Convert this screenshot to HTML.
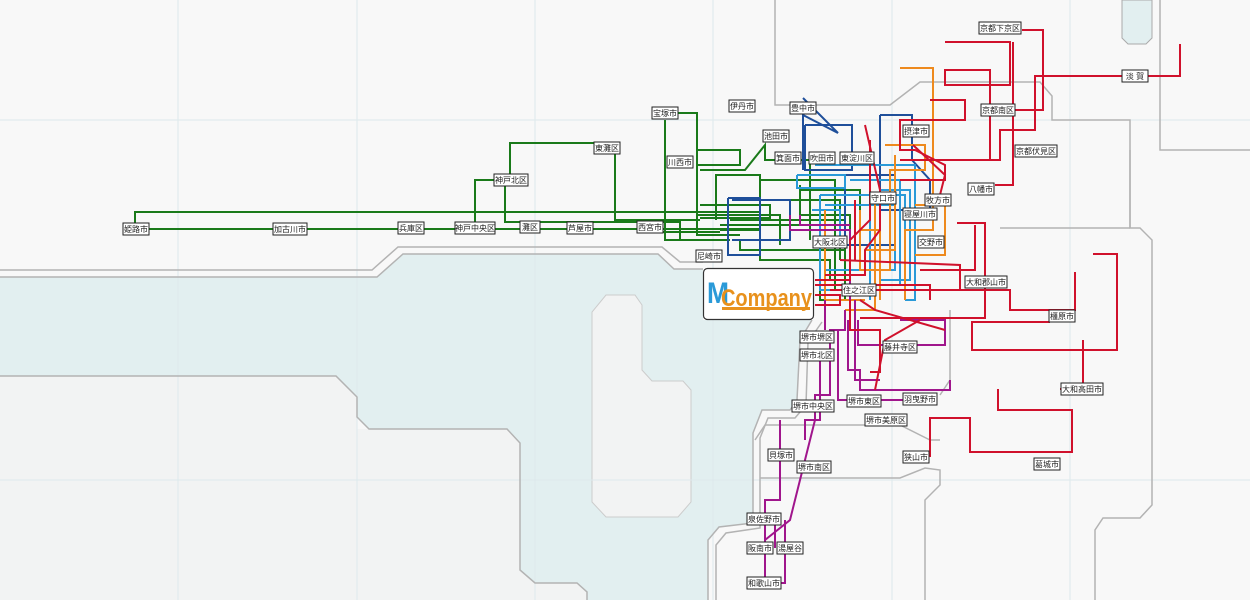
<!DOCTYPE html>
<html><head><meta charset="utf-8"><style>
html,body{margin:0;padding:0;background:#f8f8f8;}
svg{display:block}
</style></head><body>
<svg width="1250" height="600" viewBox="0 0 1250 600" xmlns="http://www.w3.org/2000/svg">
<rect width="1250" height="600" fill="#f8f8f8"/>
<polygon points="0,376 336,376 357,397 357,429 507,429 520,443 520,570 535,583 577,583 587,592 587,600 0,600" fill="#f2f3f3"/>
<polygon points="0,277 377,277 403,254 658,254 674,269 703,269 703,320 812,320 800,340 797,400 790,410 762,410 753,433 753,523 719,527 708,540 708,600 587,600 587,592 577,583 535,583 520,570 520,443 507,429 369,429 357,417 357,397 336,376 0,376" fill="#e2eff0"/>
<polygon points="606,295 635,295 642,305 642,370 652,381 683,381 691,390 691,502 678,517 606,517 592,502 592,312" fill="#f2f3f3" stroke="#ccc" stroke-width="1"/>
<polygon points="1122,0 1152,0 1152,38 1146,44 1128,44 1122,38" fill="#e2eff0" stroke="#aaa"/>
<g stroke="#dde9ec" stroke-width="1">
<line x1="178" y1="0" x2="178" y2="600"/><line x1="357" y1="0" x2="357" y2="600"/><line x1="535" y1="0" x2="535" y2="600"/><line x1="713" y1="0" x2="713" y2="600"/><line x1="892" y1="0" x2="892" y2="600"/><line x1="1070" y1="0" x2="1070" y2="600"/>
<line x1="0" y1="120" x2="1250" y2="120"/><line x1="0" y1="480" x2="1250" y2="480"/>
</g>
<g fill="none" stroke="#b3b3b3" stroke-width="1.5">
<polyline points="0,270 372,270 398,247 662,247 680,262 703,262"/>
<polyline points="0,277 377,277 403,254 658,254 674,269 703,269"/>
<polyline points="0,376 336,376 357,397 357,417 369,429 507,429 520,443 520,570 535,583 577,583 587,592 587,600"/>
<polyline points="812,320 800,340 797,400 790,410 762,410 753,433 753,523 719,527 708,540 708,600"/>
<polyline points="822,322 808,342 806,405 795,418 768,418 760,438 760,528 726,533 716,545 716,600"/>
<polyline points="775,0 775,105 890,105 920,82 1040,82 1052,96 1052,120 1130,120 1130,228"/>
<polyline points="1130,150 1130,228 1140,228 1152,240 1152,505 1140,518 1103,518 1095,530 1095,600"/>
<polyline points="1160,0 1160,150 1250,150"/>
<polyline points="760,478 900,478 925,468 940,470 940,485 925,500 925,600"/>
<polyline points="755,440 765,425 900,425 930,440 940,440"/>
<polyline points="1000,228 1130,228"/>
<polyline points="950,310 950,380 940,395"/>
</g>
<g fill="none" stroke-width="2">
<g stroke="#1a7a1a">
<polyline points="135,229 135,212 760,212"/>
<polyline points="140,229 760,229"/>
<polyline points="475,228 475,180 510,180 510,143 615,143 615,220 700,220"/>
<polyline points="505,180 505,222 680,222 680,240 700,240"/>
<polyline points="665,113 697,113 697,235 740,235"/>
<polyline points="665,120 665,240 730,240"/>
<polyline points="697,150 740,150 740,165 697,165 697,160"/>
<polyline points="716,220 716,175 760,175 760,200 840,200 840,260"/>
<polyline points="720,230 760,230 760,260 830,260 830,280"/>
<polyline points="700,170 745,170 765,145 765,160 810,160 810,240"/>
<polyline points="740,240 740,250 845,250 845,300"/>
<polyline points="730,220 845,220 845,290"/>
<polyline points="697,215 780,215 780,245"/>
<polyline points="720,225 820,225 820,300 830,300"/>
<polyline points="760,180 835,180 835,290"/>
<polyline points="800,190 860,190 860,250"/>
<polyline points="650,225 650,232 720,232"/>
<polyline points="700,205 770,205 770,218 700,218"/>
<polyline points="800,185 800,215 850,215 850,265"/>
</g>
<g stroke="#1f4f9a">
<polyline points="803,98 838,133 803,115 803,170"/>
<polyline points="805,125 852,125 852,170 805,170 805,125"/>
<polyline points="728,198 728,255 760,255 760,198 728,198"/>
<polyline points="880,115 912,115 912,160 930,180 930,210 880,210 880,115"/>
<polyline points="820,200 820,260"/>
<polyline points="845,175 845,245 895,245 895,175 845,175"/>
<polyline points="732,200 790,200 790,240 732,240"/>
</g>
<g stroke="#2a9ad8">
<polyline points="797,175 845,175 845,188 797,188 797,175"/>
<polyline points="815,165 915,165 915,300 905,300"/>
<polyline points="820,195 905,195 905,290 820,290 820,195"/>
<polyline points="850,180 900,180 900,285 850,285"/>
<polyline points="870,170 870,300"/>
<polyline points="880,190 910,190 910,280 880,280"/>
<polyline points="812,210 840,210 840,245"/>
<polyline points="825,205 895,205 895,270 825,270"/>
</g>
<g stroke="#ee8a1e">
<polyline points="900,68 933,68 933,230 905,230 905,300"/>
<polyline points="885,145 925,145 925,170 890,170 890,270 860,270 860,210"/>
<polyline points="875,200 875,310 845,310"/>
<polyline points="860,230 880,230 880,300"/>
<polyline points="915,205 945,205 945,255 915,255"/>
<polyline points="895,155 895,250 865,250"/>
<polyline points="825,210 825,300 865,300"/>
</g>
<g stroke="#a0168c">
<polyline points="790,215 790,230 850,230 850,300"/>
<polyline points="855,300 855,380 880,380"/>
<polyline points="848,320 848,370 860,370 860,390 950,390 950,380"/>
<polyline points="858,320 858,345 945,345 945,320 900,320"/>
<polyline points="845,310 845,330 830,330 830,395 815,395 815,420"/>
<polyline points="820,350 820,420 805,420 805,440"/>
<polyline points="815,420 800,480 790,520 765,540"/>
<polyline points="780,420 780,500 765,500 765,583"/>
<polyline points="775,519 775,548"/>
<polyline points="785,520 785,583 770,583"/>
<polyline points="838,330 838,400 880,400 920,400"/>
<polyline points="825,300 825,330"/>
<polyline points="800,215 800,225 850,225"/>
</g>
<g stroke="#d0112c">
<polyline points="1022,30 1043,30 1043,110 1000,110"/>
<polyline points="945,42 1010,42 1010,85 945,85 945,70 990,70 990,160 920,160"/>
<polyline points="1013,42 1013,185 995,185"/>
<polyline points="1135,76 1180,76 1180,44"/>
<polyline points="1135,76 1035,76 1035,130 1000,130 1000,160 900,160"/>
<polyline points="930,100 965,100 965,120 900,120 900,150 915,150 945,165 945,180 900,180"/>
<polyline points="957,223 985,223 985,318 860,318"/>
<polyline points="975,225 975,270 920,270"/>
<polyline points="1075,272 1075,310 1010,310 1010,290 900,290"/>
<polyline points="1093,254 1117,254 1117,350 972,350 972,322 1050,322"/>
<polyline points="1083,340 1083,389 1060,389"/>
<polyline points="998,389 998,410 1072,410 1072,452 970,452 970,418 930,418 930,457"/>
<polyline points="920,320 885,340 875,390"/>
<polyline points="860,300 875,310 945,330"/>
<polyline points="865,125 880,190 880,230 865,250 865,275 825,275"/>
<polyline points="870,140 870,220 850,240 850,280 815,280"/>
<polyline points="913,145 945,175 940,195"/>
<polyline points="840,260 960,265 960,290 830,290"/>
<polyline points="850,300 850,330 880,330 880,372 870,372"/>
<polyline points="815,285 930,285 930,300"/>
<polyline points="815,295 840,295 840,305 815,305"/>
<polyline points="855,200 855,260"/>
</g>
</g>
<rect x="703.5" y="268.5" width="110" height="51" rx="4" fill="#fff" stroke="#333" stroke-width="1.2"/>
<text x="707" y="303" font-family="Liberation Sans,sans-serif" font-weight="bold" font-size="30" fill="#2a9ad8" textLength="22" lengthAdjust="spacingAndGlyphs">M</text>
<text x="721" y="306" font-family="Liberation Sans,sans-serif" font-weight="bold" font-size="24" fill="#e8911c" textLength="91" lengthAdjust="spacingAndGlyphs">Company</text>
<rect x="722" y="307" width="88" height="3" fill="#e8911c"/>
<g font-family="Liberation Sans,Noto Sans CJK JP,sans-serif" font-size="8" fill="#222">
<g stroke="#222" stroke-width="1" fill="#fff">
<rect x="123" y="223" width="26" height="12"/><rect x="273" y="223" width="34" height="12"/><rect x="398" y="222" width="26" height="12"/><rect x="455" y="222" width="40" height="12"/><rect x="520" y="221" width="20" height="12"/><rect x="567" y="222" width="26" height="12"/><rect x="637" y="221" width="26" height="12"/><rect x="594" y="142" width="26" height="12"/><rect x="494" y="174" width="34" height="12"/><rect x="652" y="107" width="26" height="12"/><rect x="667" y="156" width="26" height="12"/><rect x="729" y="100" width="26" height="12"/><rect x="790" y="102" width="26" height="12"/><rect x="763" y="130" width="26" height="12"/><rect x="775" y="152" width="26" height="12"/><rect x="809" y="152" width="26" height="12"/><rect x="840" y="152" width="34" height="12"/><rect x="696" y="250" width="26" height="12"/><rect x="870" y="192" width="26" height="12"/><rect x="903" y="125" width="26" height="12"/><rect x="925" y="194" width="26" height="12"/><rect x="903" y="208" width="34" height="12"/><rect x="918" y="236" width="26" height="12"/><rect x="813" y="236" width="34" height="12"/><rect x="842" y="284" width="34" height="12"/><rect x="979" y="22" width="42" height="12"/><rect x="981" y="104" width="34" height="12"/><rect x="1015" y="145" width="42" height="12"/><rect x="1122" y="70" width="26" height="12"/><rect x="968" y="183" width="26" height="12"/><rect x="965" y="276" width="42" height="12"/><rect x="1049" y="310" width="26" height="12"/><rect x="1061" y="383" width="42" height="12"/><rect x="883" y="341" width="34" height="12"/><rect x="800" y="331" width="34" height="12"/><rect x="800" y="349" width="34" height="12"/><rect x="792" y="400" width="42" height="12"/><rect x="847" y="395" width="34" height="12"/><rect x="903" y="393" width="34" height="12"/><rect x="865" y="414" width="42" height="12"/><rect x="903" y="451" width="26" height="12"/><rect x="1034" y="458" width="26" height="12"/><rect x="768" y="449" width="26" height="12"/><rect x="797" y="461" width="34" height="12"/><rect x="747" y="513" width="34" height="12"/><rect x="747" y="542" width="26" height="12"/><rect x="777" y="542" width="26" height="12"/><rect x="747" y="577" width="34" height="12"/>
</g>
<text x="136" y="232" text-anchor="middle">姫路市</text><text x="290" y="232" text-anchor="middle">加古川市</text><text x="411" y="231" text-anchor="middle">兵庫区</text><text x="475" y="231" text-anchor="middle">神戸中央区</text><text x="530" y="230" text-anchor="middle">灘区</text><text x="580" y="231" text-anchor="middle">芦屋市</text><text x="650" y="230" text-anchor="middle">西宮市</text><text x="607" y="151" text-anchor="middle">東灘区</text><text x="511" y="183" text-anchor="middle">神戸北区</text><text x="665" y="116" text-anchor="middle">宝塚市</text><text x="680" y="165" text-anchor="middle">川西市</text><text x="742" y="109" text-anchor="middle">伊丹市</text><text x="803" y="111" text-anchor="middle">豊中市</text><text x="776" y="139" text-anchor="middle">池田市</text><text x="788" y="161" text-anchor="middle">箕面市</text><text x="822" y="161" text-anchor="middle">吹田市</text><text x="857" y="161" text-anchor="middle">東淀川区</text><text x="709" y="259" text-anchor="middle">尼崎市</text><text x="883" y="201" text-anchor="middle">守口市</text><text x="916" y="134" text-anchor="middle">摂津市</text><text x="938" y="203" text-anchor="middle">牧方市</text><text x="920" y="217" text-anchor="middle">寝屋川市</text><text x="931" y="245" text-anchor="middle">交野市</text><text x="830" y="245" text-anchor="middle">大阪北区</text><text x="859" y="293" text-anchor="middle">住之江区</text><text x="1000" y="31" text-anchor="middle">京都下京区</text><text x="998" y="113" text-anchor="middle">京都南区</text><text x="1036" y="154" text-anchor="middle">京都伏見区</text><text x="1135" y="79" text-anchor="middle">淡 賀</text><text x="981" y="192" text-anchor="middle">八幡市</text><text x="986" y="285" text-anchor="middle">大和郡山市</text><text x="1062" y="319" text-anchor="middle">橿原市</text><text x="1082" y="392" text-anchor="middle">大和高田市</text><text x="900" y="350" text-anchor="middle">藤井寺区</text><text x="817" y="340" text-anchor="middle">堺市堺区</text><text x="817" y="358" text-anchor="middle">堺市北区</text><text x="813" y="409" text-anchor="middle">堺市中央区</text><text x="864" y="404" text-anchor="middle">堺市東区</text><text x="920" y="402" text-anchor="middle">羽曳野市</text><text x="886" y="423" text-anchor="middle">堺市美原区</text><text x="916" y="460" text-anchor="middle">狭山市</text><text x="1047" y="467" text-anchor="middle">葛城市</text><text x="781" y="458" text-anchor="middle">貝塚市</text><text x="814" y="470" text-anchor="middle">堺市南区</text><text x="764" y="522" text-anchor="middle">泉佐野市</text><text x="760" y="551" text-anchor="middle">阪南市</text><text x="790" y="551" text-anchor="middle">湯屋谷</text><text x="764" y="586" text-anchor="middle">和歌山市</text>
</g>
</svg>
</body></html>
